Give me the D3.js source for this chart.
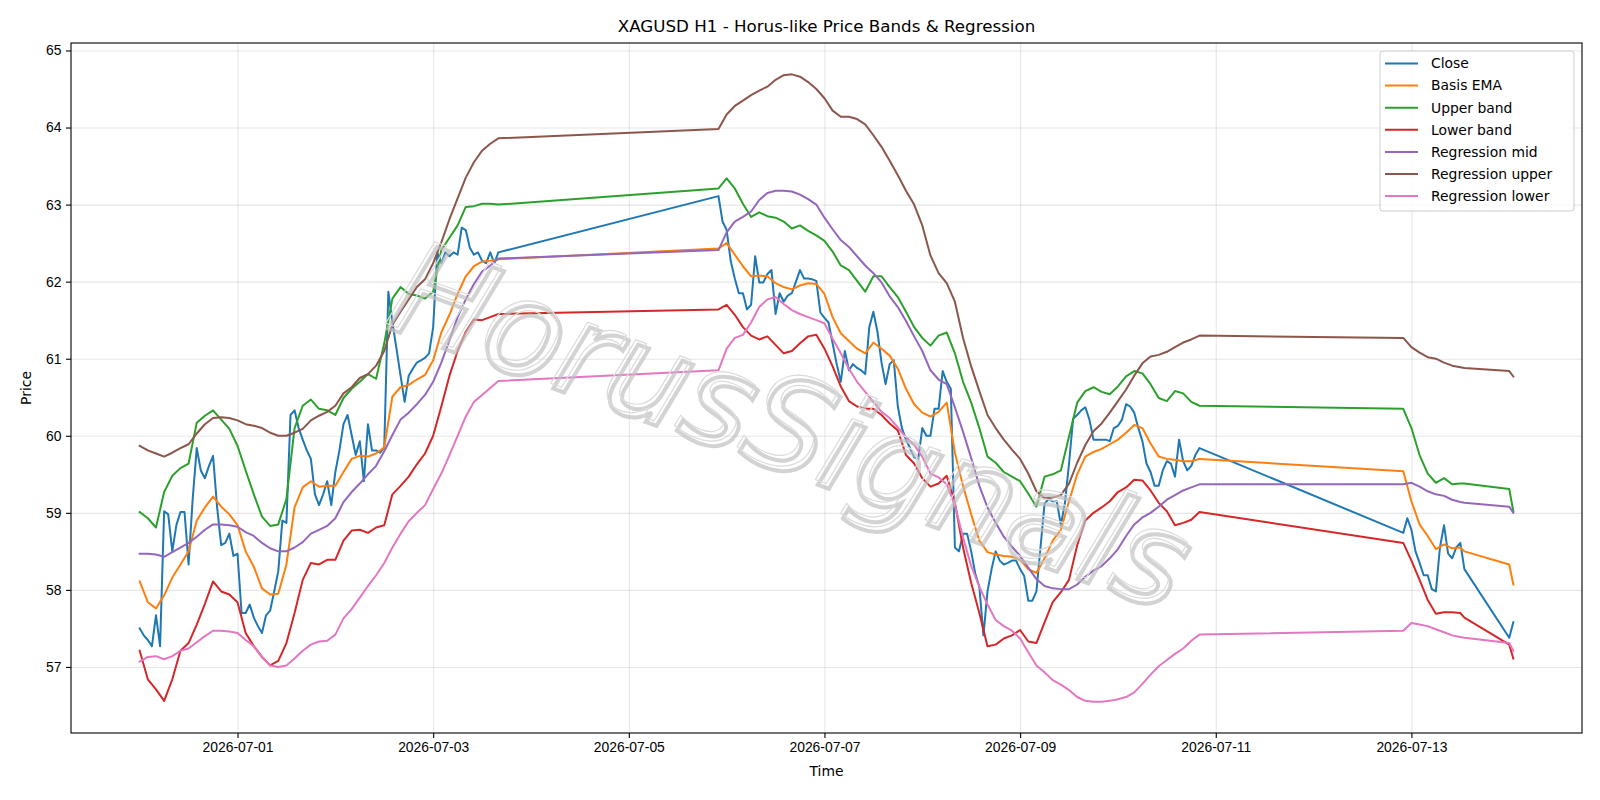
<!DOCTYPE html>
<html>
<head>
<meta charset="utf-8">
<script src="https://cdn.jsdelivr.net/npm/d3@7"></script>
<style>
  body { margin: 0; background: #ffffff; }
  svg { font-family: "DejaVu Sans", sans-serif; }
  .grid line { stroke: #b0b0b0; stroke-opacity: 0.3; stroke-width: 1.1; }
  .grid path { display: none; }
  .axis path { display: none; }
  .axis line { stroke: #000; stroke-width: 1.1; }
  .axis text { font-size: 13.9px; fill: #000; }
</style>
</head>
<body>
<div id="chart"></div>
<script>

// hours are counted from 2026-06-30 00:00 UTC (H1 bars, with weekend gaps)
const startTime = "2026-06-30T00:00:00Z";
const closeHours = [...d3.range(0, 89), ...d3.range(142, 261), ...d3.range(310, 326), 336, 337];
const bandHours = [...d3.range(0, 89, 2), ...d3.range(142, 261, 2), ...d3.range(310, 325, 2), 325, 336, 337];

const closeVals = [
    // 06-30 00:00 .. 07-03 16:00
    57.50, 57.41, 57.35, 57.27, 57.67, 57.27, 59.02, 58.98, 58.50, 58.84,
    59.01, 59.01, 58.33, 59.18, 59.84, 59.55, 59.45, 59.61, 59.74, 59.07,
    58.58, 58.61, 58.73, 58.44, 58.47, 57.70, 57.70, 57.81, 57.64, 57.53,
    57.44, 57.67, 57.73, 57.98, 58.24, 58.90, 58.87, 60.27, 60.33, 60.10,
    59.95, 59.81, 59.70, 59.24, 59.10, 59.24, 59.41, 59.10, 59.53, 59.81,
    60.15, 60.27, 60.01, 59.75, 59.93, 59.41, 60.15, 59.81, 59.81, 59.78,
    59.85, 61.87, 61.47, 61.13, 60.78, 60.44, 60.78, 60.87, 60.95, 60.98,
    61.01, 61.07, 61.41, 62.38, 62.24, 62.38, 62.33, 62.38, 62.35, 62.70,
    62.67, 62.44, 62.35, 62.38, 62.27, 62.24, 62.38, 62.24, 62.38,
    // 07-05 22:00 .. 07-10 20:00
    63.11, 62.78, 62.67, 62.27, 62.04, 61.85, 61.85, 61.64, 61.70, 62.33,
    61.99, 61.99, 62.10, 62.15, 61.58, 61.85, 61.74, 61.82, 61.85, 62.00,
    62.15, 62.04, 62.04, 62.03, 62.01, 61.60, 61.53, 61.47, 61.20, 60.93,
    60.70, 61.10, 60.85, 60.93, 60.88, 60.85, 60.80, 61.41, 61.61, 61.35,
    60.95, 60.67, 60.93, 60.98, 60.38, 60.10, 59.95, 59.84, 59.72, 59.70,
    60.10, 60.00, 60.00, 60.35, 60.35, 60.84, 60.70, 60.61, 58.55, 58.50,
    58.73, 58.73, 58.50, 58.21, 58.04, 57.41, 57.98, 58.27, 58.50, 58.38,
    58.33, 58.35, 58.38, 58.38, 58.27, 58.18, 57.86, 57.86, 57.98, 58.55,
    59.12, 59.18, 59.15, 59.15, 58.84, 59.13, 59.64, 60.22, 60.27, 60.33,
    60.37, 60.21, 59.95, 59.95, 59.95, 59.95, 59.93, 60.10, 60.13, 60.21,
    60.41, 60.38, 60.30, 60.10, 59.93, 59.64, 59.53, 59.35, 59.35, 59.55,
    59.67, 59.64, 59.47, 59.95, 59.67, 59.55, 59.61, 59.75, 59.84,
    // 07-12 22:00 .. 07-14 01:00
    58.74, 58.93, 58.78, 58.50, 58.35, 58.19, 58.19, 58.01, 57.98, 58.55,
    58.84, 58.47, 58.41, 58.55, 58.61, 58.27, 57.38, 57.58
];

const basisEma = [
    58.11, 57.84, 57.76, 57.93, 58.16, 58.33, 58.50, 58.90, 59.07, 59.21,
    59.08, 58.98, 58.84, 58.50, 58.30, 58.02, 57.94, 57.95, 58.33, 59.07,
    59.33, 59.41, 59.34, 59.35, 59.35, 59.53, 59.70, 59.74, 59.73, 59.77,
    59.85, 60.51, 60.63, 60.66, 60.73, 60.79, 60.98, 61.34, 61.57, 61.84,
    62.07, 62.20, 62.26, 62.27, 62.29,
    62.43, 62.50, 62.35, 62.20, 62.07, 62.08, 62.07, 61.98, 61.93, 61.90,
    61.95, 61.98, 61.97, 61.84, 61.54, 61.33, 61.23, 61.13, 61.07, 61.21,
    61.13, 61.04, 60.87, 60.61, 60.41, 60.30, 60.25, 60.31, 60.43, 59.78,
    59.35, 58.98, 58.64, 58.49, 58.46, 58.44, 58.43, 58.39, 58.27, 58.22,
    58.41, 58.64, 58.78, 59.15, 59.50, 59.73, 59.79, 59.83, 59.89, 59.95,
    60.04, 60.14, 60.10, 59.90, 59.73, 59.70, 59.69, 59.67, 59.67, 59.70,
    59.54, 59.15, 58.85, 58.70, 58.53, 58.59, 58.54, 58.55, 58.50, 58.33, 58.07
];

const upperBand = [
    59.01, 58.93, 58.81, 59.27, 59.48, 59.58, 59.64, 60.17, 60.26, 60.33,
    60.21, 60.09, 59.87, 59.55, 59.24, 58.95, 58.83, 58.85, 59.18, 60.10,
    60.39, 60.47, 60.35, 60.33, 60.27, 60.49, 60.61, 60.70, 60.80, 60.74,
    61.20, 61.78, 61.93, 61.84, 61.82, 61.78, 61.87, 62.41, 62.57, 62.73,
    62.97, 62.98, 63.01, 63.01, 63.00,
    63.21, 63.34, 63.21, 63.01, 62.84, 62.90, 62.85, 62.83, 62.78, 62.69,
    62.73, 62.66, 62.60, 62.53, 62.39, 62.21, 62.15, 62.01, 61.87, 62.07,
    62.07, 61.93, 61.80, 61.61, 61.41, 61.27, 61.17, 61.30, 61.34, 61.07,
    60.70, 60.43, 60.10, 59.73, 59.65, 59.53, 59.47, 59.41, 59.25, 59.08,
    59.47, 59.50, 59.55, 59.99, 60.43, 60.58, 60.63, 60.57, 60.54, 60.64,
    60.77, 60.84, 60.81, 60.67, 60.49, 60.45, 60.58, 60.55, 60.44, 60.39,
    60.35, 60.10, 59.75, 59.51, 59.39, 59.45, 59.37, 59.38, 59.38, 59.31, 59.02
];

const lowerBand = [
    57.21, 56.84, 56.71, 56.56, 56.84, 57.21, 57.31, 57.55, 57.82, 58.11,
    57.98, 57.94, 57.84, 57.44, 57.27, 57.13, 57.02, 57.08, 57.31, 57.70,
    58.13, 58.35, 58.33, 58.39, 58.39, 58.64, 58.77, 58.78, 58.74, 58.81,
    58.84, 59.24, 59.35, 59.47, 59.63, 59.77, 60.00, 60.38, 60.78, 61.10,
    61.35, 61.51, 61.50, 61.54, 61.58,
    61.64, 61.70, 61.57, 61.41, 61.30, 61.25, 61.29, 61.18, 61.07, 61.10,
    61.20, 61.29, 61.31, 61.13, 60.90, 60.64, 60.45, 60.38, 60.35, 60.35,
    60.27, 60.16, 60.07, 59.75, 59.64, 59.45, 59.34, 59.38, 59.48, 59.13,
    58.55, 58.09, 57.70, 57.27, 57.29, 57.37, 57.41, 57.48, 57.33, 57.31,
    57.58, 57.84, 57.97, 58.13, 58.58, 58.90, 59.00, 59.07, 59.15, 59.27,
    59.33, 59.43, 59.42, 59.29, 59.13, 59.02, 58.84, 58.87, 58.91, 59.01,
    58.61, 58.38, 58.13, 57.87, 57.69, 57.71, 57.71, 57.70, 57.64, 57.29, 57.11
];

const regMid = [
    58.47, 58.47, 58.46, 58.43, 58.49, 58.55, 58.61, 58.69, 58.78, 58.85,
    58.85, 58.84, 58.82, 58.75, 58.70, 58.61, 58.54, 58.50, 58.50, 58.55,
    58.62, 58.73, 58.78, 58.83, 58.93, 59.14, 59.27, 59.38, 59.50, 59.61,
    59.80, 60.01, 60.21, 60.30, 60.41, 60.53, 60.70, 60.95, 61.24, 61.54,
    61.77, 61.97, 62.13, 62.21, 62.30,
    62.41, 62.64, 62.78, 62.84, 62.91, 63.06, 63.15, 63.18, 63.18, 63.17,
    63.13, 63.07, 63.00, 62.83, 62.68, 62.54, 62.45, 62.33, 62.21, 62.11,
    61.99, 61.81, 61.67, 61.49, 61.29, 61.10, 60.85, 60.73, 60.67, 60.37,
    60.05, 59.71, 59.35, 59.07, 58.87, 58.69, 58.56, 58.44, 58.29, 58.14,
    58.05, 58.02, 58.01, 58.01, 58.07, 58.17, 58.25, 58.31, 58.41, 58.53,
    58.70, 58.85, 58.94, 59.00, 59.08, 59.17, 59.23, 59.29, 59.33, 59.37,
    59.37, 59.39, 59.34, 59.28, 59.24, 59.22, 59.17, 59.14, 59.13, 59.08, 59.00
];

const regUpper = [
    59.87, 59.81, 59.77, 59.73, 59.78, 59.84, 59.89, 60.03, 60.15, 60.23,
    60.24, 60.23, 60.20, 60.15, 60.13, 60.10, 60.04, 60.00, 60.00, 60.04,
    60.09, 60.20, 60.26, 60.31, 60.39, 60.55, 60.63, 60.75, 60.80, 60.91,
    61.10, 61.44, 61.61, 61.77, 61.93, 62.03, 62.24, 62.51, 62.81, 63.08,
    63.35, 63.55, 63.70, 63.79, 63.86,
    63.98, 64.17, 64.28, 64.35, 64.42, 64.48, 64.53, 64.62, 64.68, 64.69,
    64.66, 64.59, 64.50, 64.38, 64.22, 64.14, 64.14, 64.11, 64.04, 63.90,
    63.75, 63.57, 63.38, 63.18, 63.00, 62.73, 62.34, 62.11, 61.98, 61.74,
    61.27, 60.90, 60.58, 60.27, 60.10, 59.95, 59.82, 59.70, 59.51, 59.28,
    59.19, 59.20, 59.23, 59.38, 59.65, 59.88, 60.06, 60.16, 60.30, 60.45,
    60.60, 60.78, 60.94, 61.03, 61.05, 61.09, 61.15, 61.21, 61.25, 61.30,
    61.27, 61.15, 61.08, 61.02, 61.00, 60.95, 60.91, 60.89, 60.88, 60.84, 60.77
];

const regLower = [
    57.07, 57.13, 57.14, 57.10, 57.14, 57.21, 57.24, 57.32, 57.40, 57.47,
    57.47, 57.46, 57.44, 57.35, 57.27, 57.13, 57.02, 57.00, 57.02, 57.11,
    57.21, 57.29, 57.33, 57.34, 57.42, 57.63, 57.75, 57.90, 58.05, 58.19,
    58.35, 58.55, 58.73, 58.89, 59.00, 59.10, 59.31, 59.51, 59.75, 60.00,
    60.25, 60.44, 60.53, 60.62, 60.71,
    60.85, 61.13, 61.27, 61.31, 61.47, 61.67, 61.77, 61.80, 61.71, 61.63,
    61.58, 61.54, 61.50, 61.46, 61.26, 61.07, 60.87, 60.70, 60.57, 60.44,
    60.31, 60.23, 60.11, 59.98, 59.88, 59.73, 59.51, 59.46, 59.37, 59.10,
    58.68, 58.31, 58.04, 57.81, 57.61, 57.53, 57.47, 57.37, 57.19, 57.02,
    56.93, 56.83, 56.77, 56.70, 56.61, 56.56, 56.55, 56.55, 56.56, 56.58,
    56.61, 56.67, 56.78, 56.90, 57.01, 57.09, 57.17, 57.24, 57.34, 57.42,
    57.47, 57.57, 57.55, 57.53, 57.49, 57.45, 57.41, 57.39, 57.38, 57.31, 57.21
];

const seriesNames = ["Close", "Basis EMA", "Upper band", "Lower band",
    "Regression mid", "Regression upper", "Regression lower"];
const seriesColors = ["#1f77b4", "#ff7f0e", "#2ca02c", "#d62728", "#9467bd", "#8c564b", "#e377c2"];

const xTickLabels = ["2026-07-01", "2026-07-03", "2026-07-05", "2026-07-07",
    "2026-07-09", "2026-07-11", "2026-07-13"];
const yTickValues = [57, 58, 59, 60, 61, 62, 63, 64, 65];

const chartTitle = "XAGUSD H1 - Horus-like Price Bands & Regression";
const watermarkText = "HorusSignals";

function horusChart(selector) {

    let width = 1600, height = 800;
    var margin = {top: 43, right: 18, bottom: 67, left: 71},
        _width = width - margin.left - margin.right,
        _height = height - margin.top - margin.bottom;

    const t0 = new Date(startTime).getTime();
    const toDate = h => new Date(t0 + h * 3600 * 1000);

    const allSeries = [
        {hours: closeHours, values: closeVals},
        {hours: bandHours, values: basisEma},
        {hours: bandHours, values: upperBand},
        {hours: bandHours, values: lowerBand},
        {hours: bandHours, values: regMid},
        {hours: bandHours, values: regUpper},
        {hours: bandHours, values: regLower}
    ].map((s, i) => ({
        name: seriesNames[i],
        color: seriesColors[i],
        points: s.hours.map((h, j) => ({time: toDate(h), value: s.values[j]}))
    }));

    var svg = d3.select(selector)
        .append("svg")
        .attr("width", width)
        .attr("height", height);

    var g = svg.append("g")
        .attr("transform", "translate(" + margin.left + "," + margin.top + ")");

    // matplotlib style 5% margins around the data
    let tExt = d3.extent(allSeries.flatMap(s => s.points.map(p => p.time)));
    let tPad = (tExt[1] - tExt[0]) * 0.05;
    let xScale = d3.scaleUtc()
        .domain([new Date(+tExt[0] - tPad), new Date(+tExt[1] + tPad)])
        .range([0, _width]);

    let vExt = d3.extent(allSeries.flatMap(s => s.points.map(p => p.value)));
    let vPad = (vExt[1] - vExt[0]) * 0.05;
    let yScale = d3.scaleLinear()
        .domain([vExt[0] - vPad, vExt[1] + vPad])
        .range([_height, 0]);

    const xTicks = xTickLabels.map(d => new Date(d + "T00:00:00Z"));

    // gridlines
    g.append("g")
        .attr("class", "grid")
        .call(d3.axisLeft(yScale).tickValues(yTickValues).tickSize(-_width).tickFormat(""));

    g.append("g")
        .attr("class", "grid")
        .attr("transform", "translate(0," + _height + ")")
        .call(d3.axisBottom(xScale).tickValues(xTicks).tickSize(-_height).tickFormat(""));

    // lines
    let line = d3.line()
        .x(d => xScale(d.time))
        .y(d => yScale(d.value));

    allSeries.forEach(s => {
        g.append("path")
            .datum(s.points)
            .attr("fill", "none")
            .attr("stroke", s.color)
            .attr("stroke-width", 2)
            .attr("stroke-linejoin", "round")
            .attr("stroke-linecap", "square")
            .attr("d", line);
    });

    // watermark: hollow letters with a grey drop shadow
    let wm = g.append("g")
        .attr("transform", "translate(" + (790 - margin.left) + "," + (423 - margin.top) + ") rotate(20)")
        .style("font-size", "128px")
        .style("font-style", "italic")
        .attr("text-anchor", "middle")
        .attr("dominant-baseline", "central");

    wm.append("text")
        .attr("x", 4).attr("y", 4)
        .attr("fill", "none")
        .attr("stroke", "#c0c0c0")
        .attr("stroke-width", 4)
        .attr("stroke-opacity", 0.7)
        .text(watermarkText);

    wm.append("text")
        .attr("fill", "none")
        .attr("stroke", "#dcdcdc")
        .attr("stroke-width", 1.2)
        .text(watermarkText);

    // axes
    g.append("g")
        .attr("class", "axis")
        .attr("transform", "translate(0," + _height + ")")
        .call(d3.axisBottom(xScale).tickValues(xTicks).tickSize(5).tickPadding(4.5)
            .tickFormat(d3.utcFormat("%Y-%m-%d")));

    g.append("g")
        .attr("class", "axis")
        .call(d3.axisLeft(yScale).tickValues(yTickValues).tickSize(5).tickPadding(4.5)
            .tickFormat(d3.format("d")));

    // frame
    g.append("rect")
        .attr("width", _width)
        .attr("height", _height)
        .attr("fill", "none")
        .attr("stroke", "#000")
        .attr("stroke-width", 1.1);

    // labels
    svg.append("text")
        .attr("x", margin.left + _width / 2)
        .attr("y", 32)
        .attr("text-anchor", "middle")
        .style("font-size", "16.7px")
        .text(chartTitle);

    svg.append("text")
        .attr("x", margin.left + _width / 2)
        .attr("y", 776)
        .attr("text-anchor", "middle")
        .style("font-size", "13.9px")
        .text("Time");

    svg.append("text")
        .attr("transform", "translate(31," + (margin.top + _height / 2) + ") rotate(-90)")
        .attr("text-anchor", "middle")
        .style("font-size", "13.9px")
        .text("Price");

    // legend
    let legend = svg.append("g")
        .attr("transform", "translate(1380,51)");

    legend.append("rect")
        .attr("width", 194)
        .attr("height", 160)
        .attr("rx", 3)
        .attr("fill", "#fff")
        .attr("fill-opacity", 0.8)
        .attr("stroke", "#cccccc");

    allSeries.forEach((s, i) => {
        let row = legend.append("g")
            .attr("transform", "translate(0," + (12.5 + i * 22.1) + ")");
        row.append("line")
            .attr("x1", 5).attr("x2", 38)
            .attr("stroke", s.color)
            .attr("stroke-width", 2);
        row.append("text")
            .attr("x", 51)
            .attr("dy", "0.35em")
            .style("font-size", "13.9px")
            .text(s.name);
    });
}

horusChart("#chart");
</script>
</body>
</html>
